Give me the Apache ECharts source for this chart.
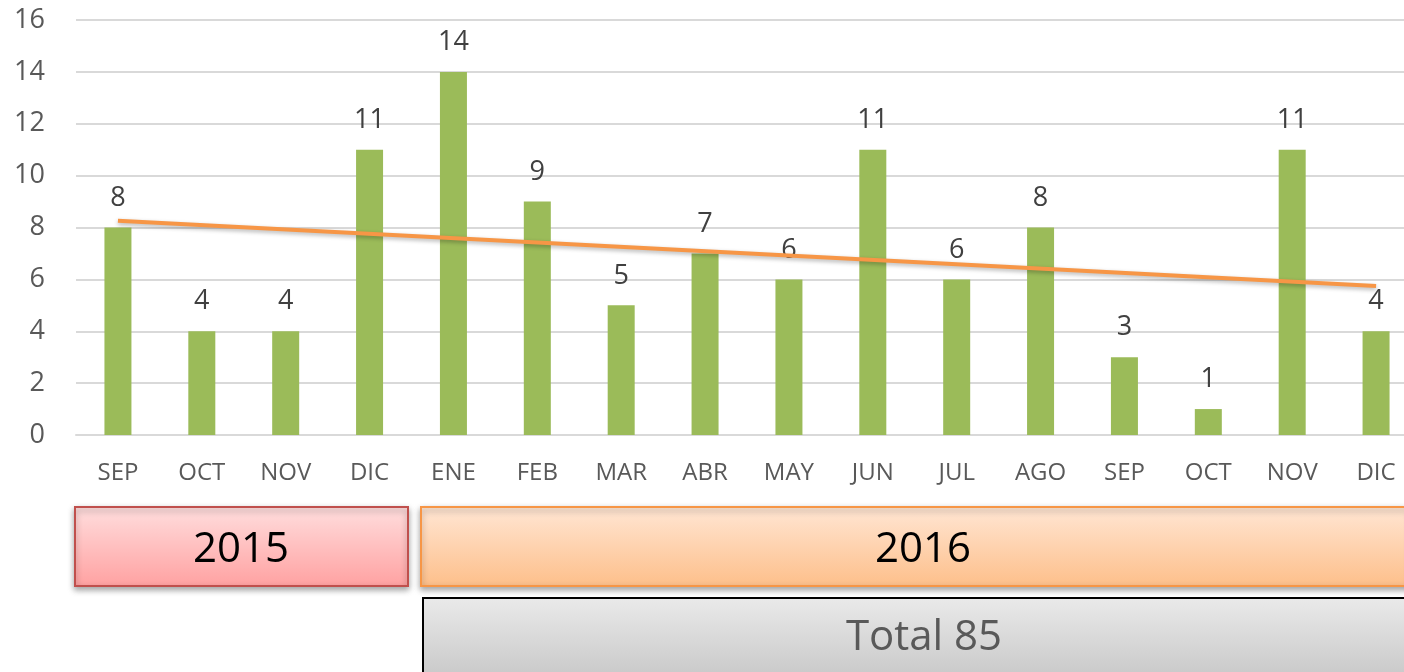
<!DOCTYPE html>
<html>
<head>
<meta charset="utf-8">
<script src="https://cdn.jsdelivr.net/npm/echarts@6/dist/echarts.min.js"></script>
<style>
html,body{margin:0;padding:0;background:#fff;}
#chart{width:1404px;height:672px;}
</style>
</head>
<body>
<div id="chart"></div>
<script>
var categories = ['SEP','OCT','NOV','DIC','ENE','FEB','MAR','ABR','MAY','JUN','JUL','AGO','SEP','OCT','NOV','DIC'];
var values = [8,4,4,11,14,9,5,7,6,11,6,8,3,1,11,4];
var trendStart = 8.26;
var trendEnd = 5.74;
var yTicks = [0,2,4,6,8,10,12,14,16];
var yearLabels = ['2015','2016'];
var totalLabel = 'Total 85';

var chart = echarts.init(document.getElementById('chart'));
var font = '"Open Sans", sans-serif';
var option = {
  animation: false,
  backgroundColor: '#fff',
  grid: {left: 76, top: 20, width: 1342, height: 415, outerBoundsMode: 'none', containLabel: false},
  xAxis: {
    type: 'category',
    data: categories,
    axisLine: {show: true, lineStyle: {color: '#D9D9D9', width: 2}},
    axisTick: {show: false},
    axisLabel: {color: '#595959', fontSize: 24, fontFamily: font, margin: 26, interval: 0}
  },
  yAxis: {
    type: 'value',
    min: yTicks[0],
    max: yTicks[yTicks.length - 1],
    interval: 2,
    axisLine: {show: false},
    axisTick: {show: false},
    splitLine: {lineStyle: {color: '#D9D9D9', width: 2}},
    axisLabel: {color: '#595959', fontSize: 27, fontFamily: font, margin: 31}
  },
  series: [
    {
      type: 'bar',
      data: values,
      barWidth: 27,
      itemStyle: {color: '#9BBB59'},
      label: {show: true, position: 'top', distance: 16, color: '#404040', fontSize: 27, fontFamily: font}
    },
    {
      type: 'line',
      data: [[0, trendStart], [categories.length - 1, trendEnd]],
      symbol: 'none',
      z: 5,
      lineStyle: {color: '#F79646', width: 4, shadowColor: 'rgba(0,0,0,0.3)', shadowBlur: 4, shadowOffsetY: 2}
    }
  ],
  graphic: [
    {
      type: 'group',
      children: [
        {
          type: 'rect',
          shape: {x: 75, y: 507, width: 333, height: 79},
          style: {
            fill: new echarts.graphic.LinearGradient(0, 0, 0, 1, [{offset: 0, color: '#FFDEDE'}, {offset: 1, color: '#FFA1A1'}]),
            stroke: '#C0504D', lineWidth: 2,
            shadowColor: 'rgba(0,0,0,0.35)', shadowBlur: 6, shadowOffsetY: 3
          }
        },
        {
          type: 'text',
          x: 241, y: 550,
          style: {text: yearLabels[0], fill: '#000', font: '42px "Open Sans", sans-serif', align: 'center', verticalAlign: 'middle'}
        },
        {
          type: 'rect',
          shape: {x: 421, y: 507, width: 990, height: 79},
          style: {
            fill: new echarts.graphic.LinearGradient(0, 0, 0, 1, [{offset: 0, color: '#FFE6D4'}, {offset: 1, color: '#FDBF8A'}]),
            stroke: '#F79646', lineWidth: 2,
            shadowColor: 'rgba(0,0,0,0.35)', shadowBlur: 6, shadowOffsetY: 3
          }
        },
        {
          type: 'text',
          x: 923, y: 550,
          style: {text: yearLabels[1], fill: '#000', font: '42px "Open Sans", sans-serif', align: 'center', verticalAlign: 'middle'}
        },
        {
          type: 'rect',
          shape: {x: 423, y: 598, width: 990, height: 90},
          style: {
            fill: new echarts.graphic.LinearGradient(0, 0, 0, 1, [{offset: 0, color: '#EAEAEA'}, {offset: 1, color: '#C4C4C4'}]),
            stroke: '#000', lineWidth: 2
          }
        },
        {
          type: 'text',
          x: 924, y: 638,
          style: {text: totalLabel, fill: '#595959', font: '42px "Open Sans", sans-serif', align: 'center', verticalAlign: 'middle'}
        }
      ]
    }
  ]
};
chart.setOption(option);
</script>
</body>
</html>
